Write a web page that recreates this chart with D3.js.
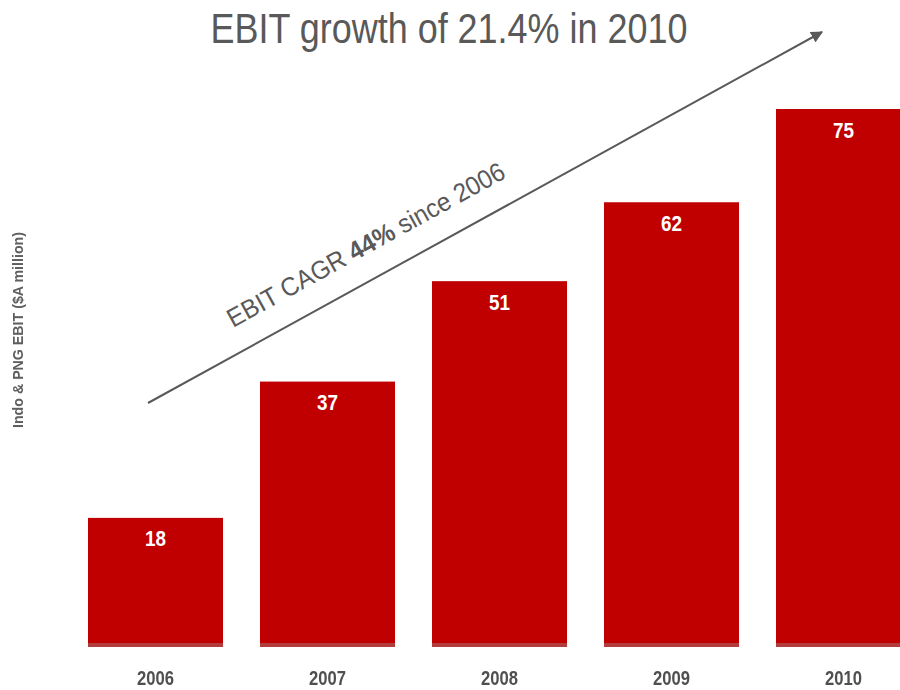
<!DOCTYPE html>
<html>
<head>
<meta charset="utf-8">
<script src="https://cdn.jsdelivr.net/npm/d3@7"></script>
<style>
  html, body { margin: 0; padding: 0; background: #ffffff; }
  svg { display: block; }
</style>
</head>
<body>
<svg id="chart" width="900" height="690"></svg>
<script>
// EBIT by year, $A million
const years = ["2006", "2007", "2008", "2009", "2010"];
const ebit = [18, 37, 51, 62, 75];

const titleText = "EBIT growth of 21.4% in 2010";
const yAxisTitle = "Indo & PNG EBIT ($A million)";
const cagrParts = [
  { text: "EBIT CAGR ", bold: false },
  { text: "44%", bold: true },
  { text: " since 2006", bold: false }
];

const W = 900, H = 690;
// Arial-metric face, squeezed with textLength to get a narrow look
const face = "'Liberation Sans', Arial, sans-serif";
const barRed = "#c00000";
const grey = "#595959";

const svg = d3.select("#chart");

const defs = svg.append("defs");
defs.append("filter").attr("id", "soft")
  .attr("x", "-20%").attr("y", "-20%")
  .attr("width", "140%").attr("height", "140%")
  .append("feGaussianBlur").attr("stdDeviation", 0.55);
defs.append("marker")
  .attr("id", "arrowHead")
  .attr("viewBox", "0 0 10 10")
  .attr("refX", 9).attr("refY", 5)
  .attr("markerWidth", 6).attr("markerHeight", 6)
  .attr("markerUnits", "strokeWidth")
  .attr("orient", "auto")
  .append("path")
  .attr("d", "M0,0 L10,5 L0,10 Z")
  .attr("fill", grey);

// scales
const x = d3.scaleBand()
  .domain(years)
  .range([69.5, 929.5])
  .paddingInner(0.215)
  .paddingOuter(0.1075);

const y = d3.scaleLinear()
  .domain([0, 75])
  .range([647, 109]);

const data = years.map((yr, i) => ({ year: yr, value: ebit[i] }));

// bars
const bars = svg.append("g").attr("class", "bars");
bars.selectAll("rect.bar")
  .data(data)
  .join("rect")
  .attr("class", "bar")
  .attr("x", d => x(d.year))
  .attr("y", d => y(d.value))
  .attr("width", x.bandwidth())
  .attr("height", d => y(0) - y(d.value))
  .attr("fill", barRed);

// darker strip along the foot of each bar
bars.selectAll("rect.foot")
  .data(data)
  .join("rect")
  .attr("class", "foot")
  .attr("x", d => x(d.year))
  .attr("y", y(0) - 4)
  .attr("width", x.bandwidth())
  .attr("height", 4)
  .attr("fill", "#b33c3c");

// value labels inside bar tops
bars.selectAll("text.val")
  .data(data)
  .join("text")
  .attr("class", "val")
  .attr("x", d => x(d.year) + x.bandwidth() / 2)
  .attr("y", d => y(d.value) + 28.5)
  .attr("text-anchor", "middle")
  .attr("font-family", face)
  .attr("font-weight", "bold")
  .attr("font-size", 22)
  .attr("fill", "#ffffff")
  .attr("textLength", 21)
  .attr("lengthAdjust", "spacingAndGlyphs")
  .text(d => d.value);

// year axis
const xAxis = svg.append("g")
  .attr("transform", `translate(0, ${y(0)})`)
  .attr("filter", "url(#soft)")
  .call(d3.axisBottom(x).tickSize(0).tickPadding(23));
xAxis.select(".domain").remove();
xAxis.selectAll("text")
  .attr("font-family", face)
  .attr("font-weight", "bold")
  .attr("font-size", 21)
  .attr("fill", "#505050")
  .attr("textLength", 37)
  .attr("lengthAdjust", "spacingAndGlyphs");

// vertical axis title
svg.append("text")
  .attr("transform", "translate(23, 330) rotate(-90)")
  .attr("text-anchor", "middle")
  .attr("font-family", face)
  .attr("font-weight", "bold")
  .attr("font-size", 14)
  .attr("fill", "#5e5e5e")
  .attr("filter", "url(#soft)")
  .attr("textLength", 196)
  .attr("lengthAdjust", "spacingAndGlyphs")
  .text(yAxisTitle);

// title
svg.append("text")
  .attr("x", 449)
  .attr("y", 43)
  .attr("text-anchor", "middle")
  .attr("font-family", face)
  .attr("font-size", 43)
  .attr("fill", grey)
  .attr("textLength", 477)
  .attr("lengthAdjust", "spacingAndGlyphs")
  .text(titleText);

// growth arrow
const p0 = [148, 403], p1 = [822, 32];
svg.append("line")
  .attr("x1", p0[0]).attr("y1", p0[1])
  .attr("x2", p1[0]).attr("y2", p1[1])
  .attr("stroke", grey)
  .attr("stroke-width", 2)
  .attr("marker-end", "url(#arrowHead)");

// CAGR note along the arrow
const angle = Math.atan2(p1[1] - p0[1], p1[0] - p0[0]) * 180 / Math.PI;
const cagr = svg.append("text")
  .attr("transform", `translate(233, 328) rotate(${angle})`)
  .attr("font-family", face)
  .attr("font-size", 26)
  .attr("fill", grey)
  .attr("textLength", 313)
  .attr("lengthAdjust", "spacingAndGlyphs");
cagr.selectAll("tspan")
  .data(cagrParts)
  .join("tspan")
  .attr("font-weight", d => d.bold ? "bold" : "normal")
  .text(d => d.text);
</script>
</body>
</html>
